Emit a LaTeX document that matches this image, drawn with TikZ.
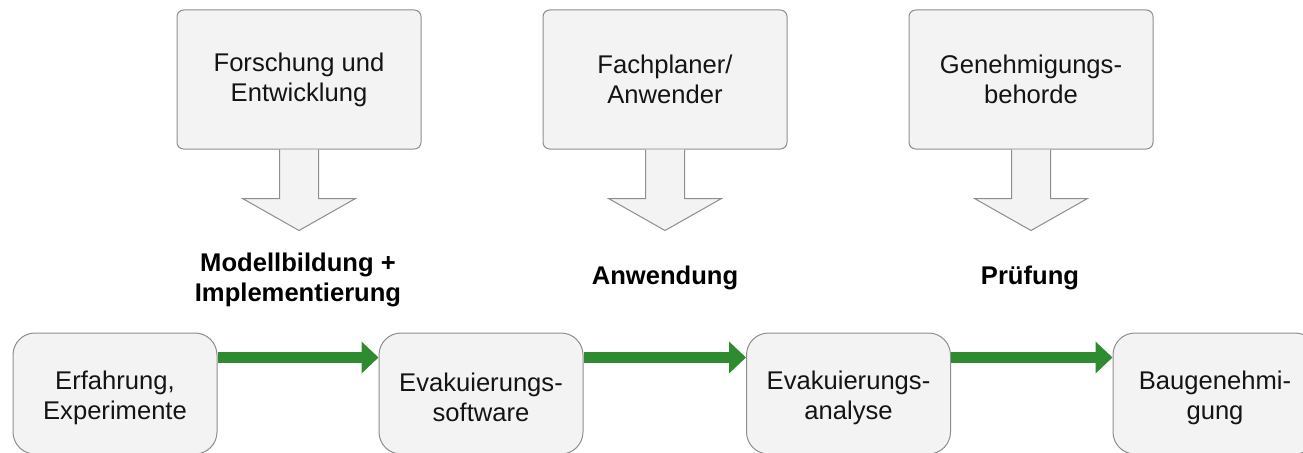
\documentclass[tikz,border=0pt]{standalone}
\usepackage{fontspec}
\setmainfont{Liberation Sans}
\usetikzlibrary{arrows.meta,calc}
\definecolor{boxfill}{HTML}{F3F3F3}
\definecolor{boxline}{HTML}{8E8E8E}
\definecolor{agreen}{HTML}{2E8B30}
\begin{document}
\begin{tikzpicture}[x=0.75pt,y=-0.75pt,
  txt/.style={font=\fontsize{19.2pt}{22.5pt}\selectfont,align=center,text=black!92},
  topbox/.style={txt,draw=boxline,fill=boxfill,line width=0.75pt,rounded corners=5pt,minimum width=183pt,minimum height=104.25pt,inner sep=0pt},
  botbox/.style={draw=boxline,fill=boxfill,line width=0.75pt,rounded corners=16.5pt,minimum width=153pt,minimum height=90.75pt,inner sep=0pt},
  lbl/.style={txt,font=\fontsize{19.2pt}{22.5pt}\selectfont\bfseries,text=black},
  blockarrow/.style={draw=boxline,fill=boxfill,line width=0.75pt,line join=miter},
  garrow/.style={draw=agreen,line width=8.25pt,-{Triangle[width=23.25pt,length=12.75pt]}}
]
\useasboundingbox (0,0) rectangle (1303,453);
\fill[white] (0,0) rectangle (1303,453);

% top boxes
\node[topbox] (t1) at (299,79.5) {Forschung und\\Entwicklung};
\node[topbox] (t2) at (665,79.5) {Fachplaner/\\Anwender};
\node[topbox] (t3) at (1031,79.5) {Genehmigungs-\\behorde};

% labels
\node[lbl] (l1) at (298,280) {Modellbildung +\\Implementierung};
\node[lbl] (l2) at (665,278) {Anwendung};
\node[lbl] (l3) at (1030,278) {Prüfung};

% block arrows
\foreach \t in {t1,t2,t3}{
  \draw[blockarrow] ($(\t.south)+(-19.5,0)$) -- ($(\t.south)+(-19.5,49)$) -- ($(\t.south)+(-56.5,49)$)
    -- ($(\t.south)+(0,81)$) -- ($(\t.south)+(56.5,49)$) -- ($(\t.south)+(19.5,49)$) -- ($(\t.south)+(19.5,0)$);
}

% bottom boxes
\node[botbox] (b1) at (115,393.5) {};
\node[botbox] (b2) at (481,393.5) {};
\node[botbox] (b3) at (848.5,393.5) {};
\node[botbox] (b4) at (1215,393.5) {};
\node[txt] (b1t) at ($(b1.center)+(0,4)$) {Erfahrung,\\Experimente};
\node[txt] (b2t) at ($(b2.center)+(0,4)$) {Evakuierungs-\\software};
\node[txt] (b3t) at ($(b3.center)+(0,4)$) {Evakuierungs-\\analyse};
\node[txt] (b4t) at ($(b4.center)+(0,4)$) {Baugenehmi-\\gung};

% green arrows
\draw[garrow] ($(b1.east)+(0,-36)$) -- ($(b2.west)+(0,-36)$);
\draw[garrow] ($(b2.east)+(0,-36)$) -- ($(b3.west)+(0,-36)$);
\draw[garrow] ($(b3.east)+(0,-36)$) -- ($(b4.west)+(0,-36)$);
\end{tikzpicture}
\end{document}
